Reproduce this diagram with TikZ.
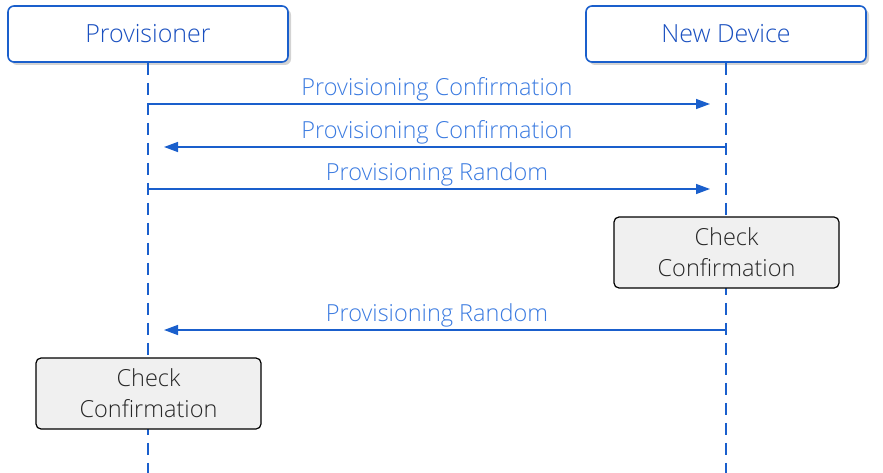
\documentclass[tikz,border=0pt]{standalone}
\usepackage{fontspec}
\setmainfont{Open Sans}[UprightFont={* Light}]
\usetikzlibrary{arrows.meta,shadows}
\definecolor{lineblue}{HTML}{1A5FCC}
\definecolor{txtblue}{HTML}{1A50C0}
\definecolor{lblblue}{HTML}{3A7AE0}
\definecolor{boxgray}{HTML}{F0F0F0}
\begin{document}
\begin{tikzpicture}[x=1pt,y=-1pt,
  actor/.style={draw=lineblue,line width=1.6pt,rounded corners=6pt,fill=white,
    minimum width=280pt,minimum height=56pt,font=\fontsize{25}{30}\selectfont,text=txtblue,
    drop shadow={shadow xshift=3pt,shadow yshift=-3pt,opacity=0.35}},
  lifeline/.style={draw=lineblue,line width=1.6pt,dash pattern=on 12pt off 8pt},
  msg/.style={draw=lineblue,line width=1.4pt,-{Triangle[length=14pt,width=10pt]}},
  lbl/.style={text=lblblue,font=\fontsize{23.5}{28}\selectfont,inner sep=0pt},
  check/.style={draw=black,line width=1.2pt,rounded corners=5pt,fill=boxgray,
    minimum width=225pt,minimum height=71pt,align=center,
    font=\fontsize{23.5}{31}\selectfont,text=black!85}]
\useasboundingbox (0,0) rectangle (883,473);
\node[actor] (prov) at (148,34) {Provisioner};
\node[actor] (dev) at (726,34) {New Device};
\coordinate (pend) at (148,473);
\coordinate (dend) at (726,473);
\draw[lifeline] (prov.south) -- (pend);
\draw[lifeline] (dev.south) -- (dend);
% messages
\coordinate (p1) at (148,104); \coordinate (d1) at (710,104);
\coordinate (d2) at (726,147); \coordinate (p2) at (164,147);
\coordinate (p3) at (148,189); \coordinate (d3) at (710,189);
\coordinate (d4) at (726,330); \coordinate (p4) at (164,330);
\draw[msg] (p1) -- (d1);
\draw[msg] (d2) -- (p2);
\draw[msg] (p3) -- (d3);
\draw[msg] (d4) -- (p4);
\node[lbl] (m1) at (437,89) {Provisioning Confirmation};
\node[lbl] (m2) at (437,132) {Provisioning Confirmation};
\node[lbl] (m3) at (437,174) {Provisioning Random};
\node[lbl] (m4) at (437,315) {Provisioning Random};
\node[check] (c1) at (726.5,252.5) {Check\\Confirmation};
\node[check] (c2) at (148.5,393.5) {Check\\Confirmation};
\end{tikzpicture}
\end{document}
